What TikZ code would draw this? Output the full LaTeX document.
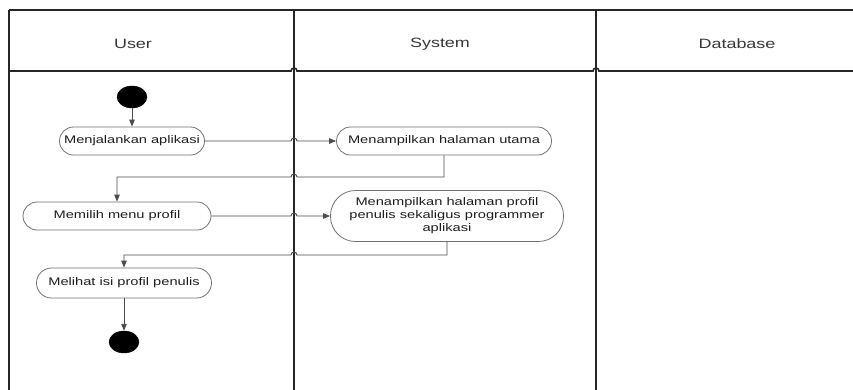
\documentclass[tikz,border=0pt]{standalone}
\usepackage{fontspec}
\newfontfamily\lanefont[FakeStretch=1.33]{Liberation Sans}
\usetikzlibrary{arrows.meta,shapes.geometric}

\tikzset{
  lane/.style={draw=black!85, line width=1.6pt},
  act/.style={draw=black!55, line width=0.8pt, rounded corners=14pt,
    font=\lanefont\fontsize{11}{13}\selectfont, text=black!88,
    inner sep=2pt, align=center},
  flow/.style={draw=black!70, line width=0.9pt},
  tip/.style={-{Triangle[length=7pt,width=5.5pt]}},
  dot/.style={ellipse, fill=black, draw=black, minimum width=30pt,
    minimum height=22pt, inner sep=0pt},
  head/.style={font=\lanefont\fontsize{13.5}{16}\selectfont, text=black!78}
}

\begin{document}
\begin{tikzpicture}[x=1pt,y=-1pt]
  \clip (0,0) rectangle (853,389);
  \fill[white] (0,0) rectangle (853,389);

  % swimlane frame
  \draw[lane] (9,10) -- (870,10);
  \draw[lane] (9,10) -- (9,400);
  \draw[lane] (294,10) -- (294,400);
  \draw[lane] (596,10) -- (596,400);
  \draw[lane] (9,71) -- (291,71) arc[start angle=180,end angle=0,radius=3pt]
    -- (593,71) arc[start angle=180,end angle=0,radius=3pt] -- (870,71);

  % lane titles
  \node[head] (tuser) at (133,44) {User};
  \node[head] (tsys)  at (440,44) {System};
  \node[head] (tdb)   at (737,44) {Database};

  % activities
  \node[dot] (start) at (132,97) {};
  \node[act, minimum width=145pt, minimum height=28pt] (n1) at (132,141) {Menjalankan aplikasi};
  \node[act, minimum width=215pt, minimum height=28pt] (n2) at (444,141) {Menampilkan halaman utama};
  \node[act, minimum width=188pt, minimum height=28pt] (n3) at (117,216) {Memilih menu profil};
  \node[act, minimum width=233pt, minimum height=51pt, rounded corners=25pt] (n4) at (447,216)
    {Menampilkan halaman profil\\penulis sekaligus programmer\\aplikasi};
  \node[act, minimum width=175pt, minimum height=30pt, rounded corners=15pt] (n5) at (124,283) {Melihat isi profil penulis};
  \node[dot] (stop) at (124,342) {};

  % turning points of the flows
  \coordinate (h1) at (291,141);
  \coordinate (b1) at (444,177);
  \coordinate (h2) at (297,177);
  \coordinate (k1) at (117,177);
  \coordinate (h3) at (291,216);
  \coordinate (b2) at (447,255);
  \coordinate (h4) at (297,255);
  \coordinate (k2) at (124,255);

  % flows
  \draw[flow,tip] (start) -- (n1);
  \draw[flow,tip] (n1.east) -- (h1) arc[start angle=180,end angle=0,radius=3pt] -- (n2.west);
  \draw[flow,tip] (n2.south) -- (b1) -- (h2) arc[start angle=0,end angle=180,radius=3pt] -- (k1) -- (n3.north);
  \draw[flow,tip] (n3.east) -- (h3) arc[start angle=180,end angle=0,radius=3pt] -- (n4.west);
  \draw[flow,tip] (n4.south) -- (b2) -- (h4) arc[start angle=0,end angle=180,radius=3pt] -- (k2) -- (n5.north);
  \draw[flow,tip] (n5) -- (stop);
\end{tikzpicture}
\end{document}
